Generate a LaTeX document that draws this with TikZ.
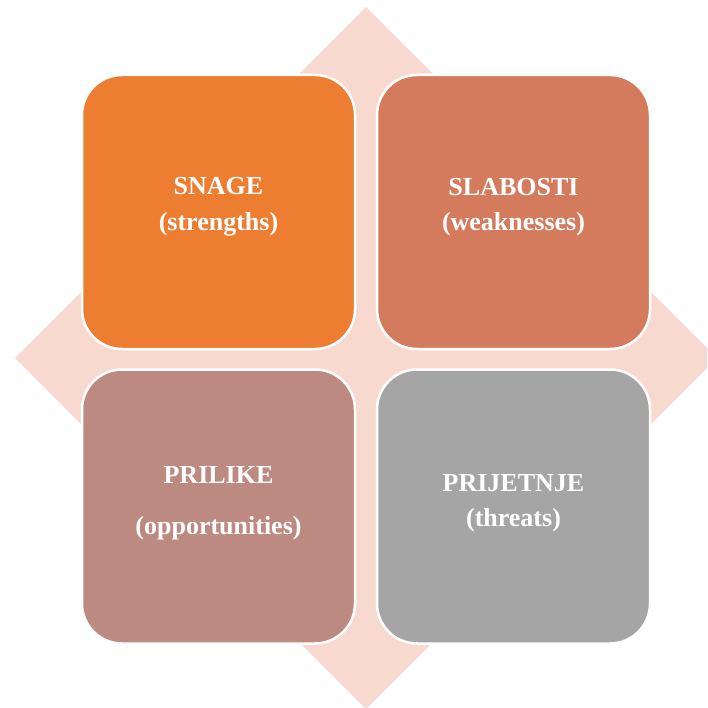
\documentclass[tikz,border=0pt]{standalone}
\usepackage{fontspec}
\setmainfont{Liberation Serif}
\definecolor{diam}{HTML}{F8D9CF}
\definecolor{cS}{HTML}{ED7D31}
\definecolor{cW}{HTML}{D37B5C}
\definecolor{cO}{HTML}{BC8A81}
\definecolor{cT}{HTML}{A5A5A5}
\tikzset{
  quad/.style={draw=white, line width=2.5pt, rounded corners=40pt, minimum width=273pt, minimum height=274pt, inner sep=0pt},
  lbl/.style={text=white, font=\bfseries\fontsize{26}{30}\selectfont, anchor=base, inner sep=0pt}
}
\begin{document}
\begin{tikzpicture}[x=1pt,y=-1pt]
\useasboundingbox (0,0) rectangle (707,708);
\clip (0,0) rectangle (707,708);
\fill[diam] (366,7) -- (717,358) -- (366,709) -- (15,358) -- cycle;
\node[quad, fill=cS] (s) at (218.5,212) {};
\node[quad, fill=cW] (w) at (513.5,212) {};
\node[quad, fill=cO] (o) at (218.5,506.5) {};
\node[quad, fill=cT] (t) at (513.5,506.5) {};
\node[lbl] (s1) at (218.5,195) {SNAGE};
\node[lbl] (s2) at (218.5,231) {(strengths)};
\node[lbl] (w1) at (513.5,196) {SLABOSTI};
\node[lbl] (w2) at (513.5,231) {(weaknesses)};
\node[lbl] (o1) at (218.5,483) {PRILIKE};
\node[lbl] (o2) at (218.5,534) {(opportunities)};
\node[lbl] (t1) at (513.5,491) {PRIJETNJE};
\node[lbl] (t2) at (513.5,526) {(threats)};
\end{tikzpicture}
\end{document}
